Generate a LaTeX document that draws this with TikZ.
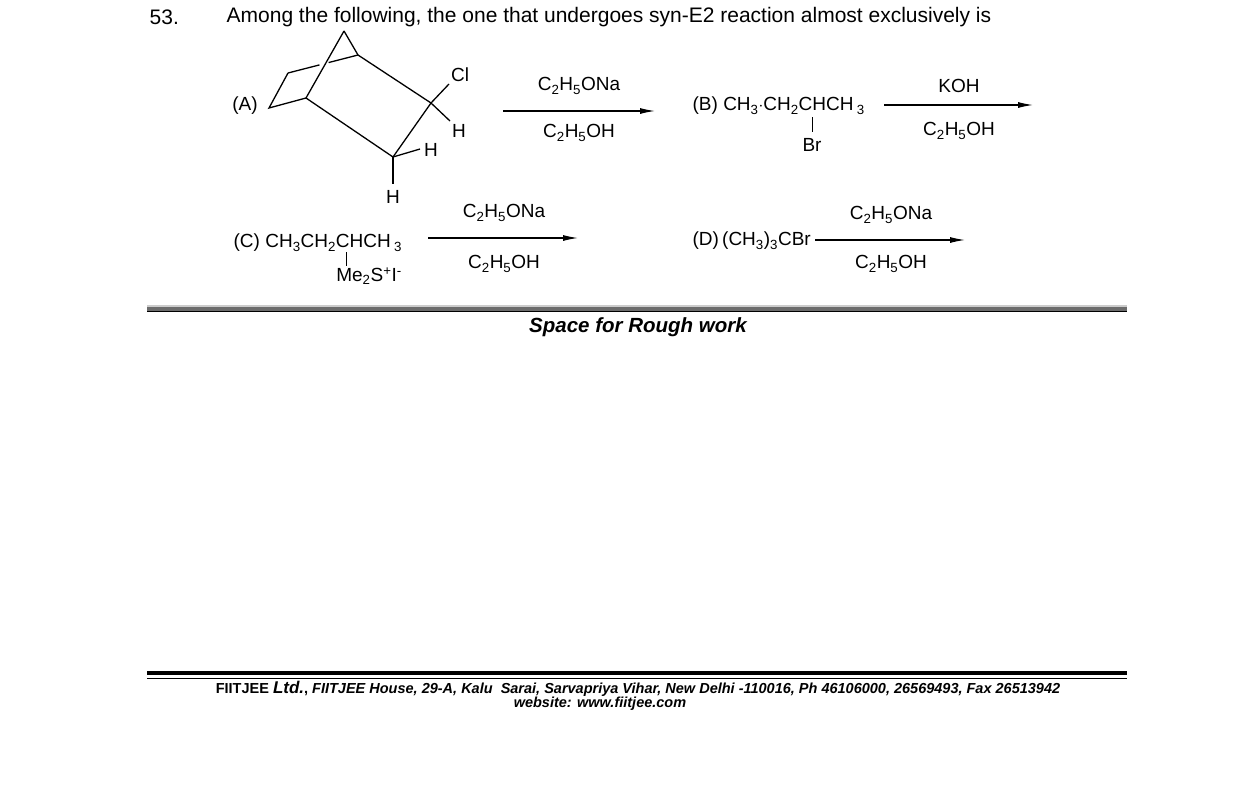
\documentclass[tikz,border=0pt]{standalone}
\usepackage{fontspec}
\setmainfont{Liberation Sans}
\usetikzlibrary{arrows.meta,calc}
\begin{document}
\begin{tikzpicture}[x=1pt,y=-1pt,line width=1.3pt,
  t/.style={inner sep=0pt,font=\fontsize{19}{21}\selectfont},
  arr/.style={-{Latex[length=15pt,width=6pt]},line width=1.1pt}]
\useasboundingbox (0,0) rectangle (1238,787);
\node[inner sep=0,anchor=west,font=\fontsize{21}{23}\selectfont] (q) at (149,17) {53.};
\node[inner sep=0,anchor=west,font=\fontsize{21}{23}\selectfont] (qt) at (226,17) {Among the following, the one that undergoes syn-E2 reaction almost exclusively is};
% structure A
\coordinate (ap) at (344,31); \coordinate (rb) at (358,55); \coordinate (lu) at (288,73);
\coordinate (ll) at (269,108); \coordinate (lb) at (306,98); \coordinate (c1) at (431,103);
\coordinate (c2) at (393,157);
\draw (ap)--(rb); \draw (ap)--(lb);
\draw (lu)--($(lu)!0.45!(rb)$); \draw ($(lu)!0.58!(rb)$)--(rb);
\draw (lu)--(ll)--(lb)--(c2)--(c1)--(rb);
\node[t] (cl) at (460,75) {Cl}; \draw (c1)--(449,84);
\node[t] (h1) at (459,131) {H}; \draw (c1)--(450,121);
\node[t] (h2) at (431,150) {H}; \draw (c2)--(420,149);
\node[t] (h3) at (393,197) {H}; \draw (c2)--(393,184);
\node[t] (A) at (245,106) {(A)};
% arrow 1
\coordinate (a1s) at (503,111); \coordinate (a1e) at (655,111);
\draw[arr] (a1s)--(a1e);
\node[t] (r1) at (579,86) {C\textsubscript{2}H\textsubscript{5}ONa};
\node[t] (s1) at (579,133) {C\textsubscript{2}H\textsubscript{5}OH};
% B
\node[t,anchor=west] (B) at (692,106) {(B) CH\textsubscript{3}$\cdot$CH\textsubscript{2}CHCH\,\textsubscript{3}};
\node[t] (br) at (812,145) {Br}; \draw[line width=1pt] (812,117)--(812,132);
\coordinate (a2s) at (884,105); \coordinate (a2e) at (1033,105);
\draw[arr] (a2s)--(a2e);
\node[t] (r2) at (959,86) {KOH};
\node[t] (s2) at (959,131) {C\textsubscript{2}H\textsubscript{5}OH};
% C
\node[t,anchor=west] (C) at (233,243) {(C) CH\textsubscript{3}CH\textsubscript{2}CHCH\,\textsubscript{3}};
\draw[line width=1pt] (346,252)--(346,266);
\node[t] (me) at (369,276) {Me\textsubscript{2}S\textsuperscript{+}I\textsuperscript{-}};
\coordinate (a3s) at (428,238); \coordinate (a3e) at (578,238);
\draw[arr] (a3s)--(a3e);
\node[t] (r3) at (504,213) {C\textsubscript{2}H\textsubscript{5}ONa};
\node[t] (s3) at (504,264) {C\textsubscript{2}H\textsubscript{5}OH};
% D
\node[t,anchor=west] (D) at (692,241) {(D)\,(CH\textsubscript{3})\textsubscript{3}CBr};
\coordinate (a4e) at (965,240);
\draw[arr] ([xshift=4pt]D.east|-a4e)--(a4e);
\node[t] (r4) at (891,215) {C\textsubscript{2}H\textsubscript{5}ONa};
\node[t] (s4) at (891,264) {C\textsubscript{2}H\textsubscript{5}OH};
% rough work bar
\fill[gray!85!black] (147,306) rectangle (1127,311);
\fill[gray!40] (147,305) rectangle (1127,306.5);
\draw[line width=1pt] (147,311.5)--(1127,311.5);
\node[inner sep=0,font=\fontsize{20.5}{22}\selectfont\bfseries\itshape] (sp) at (638,327) {Space for Rough work};
% footer
\fill (147,670.5) rectangle (1127,675);
\draw[line width=0.8pt] (147,678)--(1127,678);
\node[inner sep=0,font=\fontsize{14.5}{16}\selectfont\bfseries] (ft) at (638,689) {FIITJEE \textit{\fontsize{17}{18}\selectfont Ltd.}, \itshape FIITJEE House, 29-A, Kalu\ \ Sarai, Sarvapriya Vihar, New Delhi -110016, Ph 46106000, 26569493, Fax 26513942};
\node[inner sep=0,font=\fontsize{14.5}{16}\selectfont\bfseries\itshape] (web) at (600,704) {website: www.fiitjee.com};
\end{tikzpicture}
\end{document}
